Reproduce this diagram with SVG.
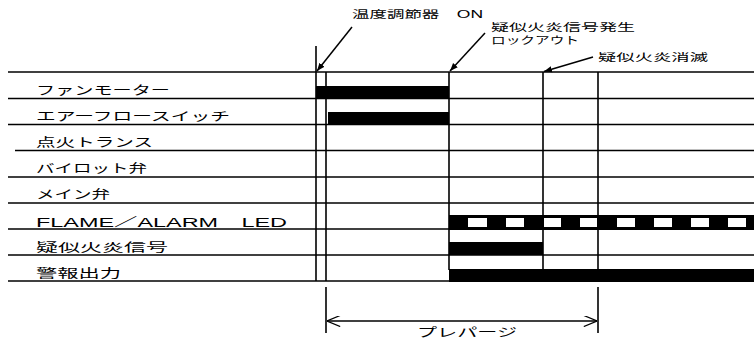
<svg xmlns="http://www.w3.org/2000/svg" width="754" height="339" viewBox="0 0 754 339">
<defs>
<style>
.ln{stroke:#000;stroke-width:1.6;fill:none}
.bar{fill:#000}
.t{font-family:"Liberation Sans","Noto Sans CJK JP",sans-serif;font-size:12px;fill:#000}
.s{font-size:10.5px}
.ar{stroke:#000;stroke-width:1.5;fill:none}
</style>
<marker id="ah" viewBox="0 0 10 10" refX="10" refY="5" markerWidth="8" markerHeight="8" orient="auto" markerUnits="userSpaceOnUse">
<path d="M0,1 L10,5 L0,9 Z" fill="#000"/>
</marker>
<marker id="oa" viewBox="0 0 12 10" refX="12" refY="5" markerWidth="14" markerHeight="11" orient="auto-start-reverse" markerUnits="userSpaceOnUse">
<path d="M0,0 L12,5 L0,10" fill="none" stroke="#000" stroke-width="1.2"/>
</marker>
</defs>
<rect width="754" height="339" fill="#fff"/>
<g id="grid">
<line class="ln" x1="8" y1="72" x2="754" y2="72"/>
<line class="ln" x1="8" y1="98.5" x2="754" y2="98.5"/>
<line class="ln" x1="8" y1="124.5" x2="754" y2="124.5"/>
<line class="ln" x1="15" y1="150.5" x2="754" y2="150.5"/>
<line class="ln" x1="8" y1="177" x2="754" y2="177"/>
<line class="ln" x1="8" y1="203" x2="754" y2="203"/>
<line class="ln" x1="8" y1="229" x2="754" y2="229"/>
<line class="ln" x1="8" y1="255" x2="754" y2="255"/>
<line class="ln" x1="8" y1="281" x2="449" y2="281"/>
<line class="ln" x1="316" y1="46" x2="316" y2="281"/>
<line class="ln" x1="326" y1="72" x2="326" y2="281"/>
<line class="ln" x1="449" y1="72" x2="449" y2="270"/>
<line class="ln" x1="543" y1="72" x2="543" y2="270"/>
<line class="ln" x1="598" y1="72" x2="598" y2="270"/>
<line class="ln" x1="326" y1="287" x2="326" y2="333"/>
<line class="ln" x1="598" y1="287" x2="598" y2="333"/>
</g>
<g id="labels">
<text class="t" x="36" y="95" textLength="134" lengthAdjust="spacingAndGlyphs">ファンモーター</text>
<text class="t" x="36" y="121" textLength="194" lengthAdjust="spacingAndGlyphs">エアーフロースイッチ</text>
<text class="t" x="36" y="147" textLength="117" lengthAdjust="spacingAndGlyphs">点火トランス</text>
<text class="t" x="36" y="173" textLength="111" lengthAdjust="spacingAndGlyphs">バイロット弁</text>
<text class="t" x="36" y="199" textLength="74" lengthAdjust="spacingAndGlyphs">メイン弁</text>
<text class="t" x="36" y="227" textLength="251" lengthAdjust="spacingAndGlyphs">FLAME／ALARM　LED</text>
<text class="t" x="36" y="252" textLength="132" lengthAdjust="spacingAndGlyphs">疑似火炎信号</text>
<text class="t" x="36" y="278" textLength="85" lengthAdjust="spacingAndGlyphs">警報出力</text>
</g>
<g id="bars">
<rect class="bar" x="316" y="86" width="133" height="13"/>
<rect class="bar" x="328" y="112" width="121" height="13"/>
<rect class="bar" x="449" y="215" width="305" height="15"/>
<g fill="#fff">
<rect x="468" y="218" width="19" height="9"/>
<rect x="506" y="218" width="18" height="9"/>
<rect x="544" y="218" width="17" height="9"/>
<rect x="580" y="218" width="17" height="9"/>
<rect x="617" y="218" width="18" height="9"/>
<rect x="654" y="218" width="18" height="9"/>
<rect x="691" y="218" width="18" height="9"/>
<rect x="728" y="218" width="18" height="9"/>
</g>
<rect class="bar" x="449" y="242" width="94" height="13"/>
<rect class="bar" x="449" y="269" width="305" height="13"/>
</g>
<g id="annotations">
<text class="t s" x="352" y="18" textLength="131" lengthAdjust="spacingAndGlyphs">温度調節器　ON</text>
<text class="t s" x="491" y="31" textLength="144" lengthAdjust="spacingAndGlyphs">疑似火炎信号発生</text>
<text class="t s" x="491" y="44" textLength="88" lengthAdjust="spacingAndGlyphs">ロックアウト</text>
<text class="t s" x="598" y="61" textLength="110" lengthAdjust="spacingAndGlyphs">疑似火炎消滅</text>
<text class="t" x="417" y="337" textLength="100" lengthAdjust="spacingAndGlyphs">プレパージ</text>
</g>
<g id="connectors">
<line class="ar" x1="352" y1="27" x2="317" y2="71" marker-end="url(#ah)"/>
<line class="ar" x1="485" y1="33" x2="450" y2="71" marker-end="url(#ah)"/>
<line class="ar" x1="593" y1="57" x2="544" y2="71.5" marker-end="url(#ah)"/>
<line class="ar" x1="327" y1="321" x2="597" y2="321" marker-start="url(#oa)" marker-end="url(#oa)"/>
</g>
</svg>
